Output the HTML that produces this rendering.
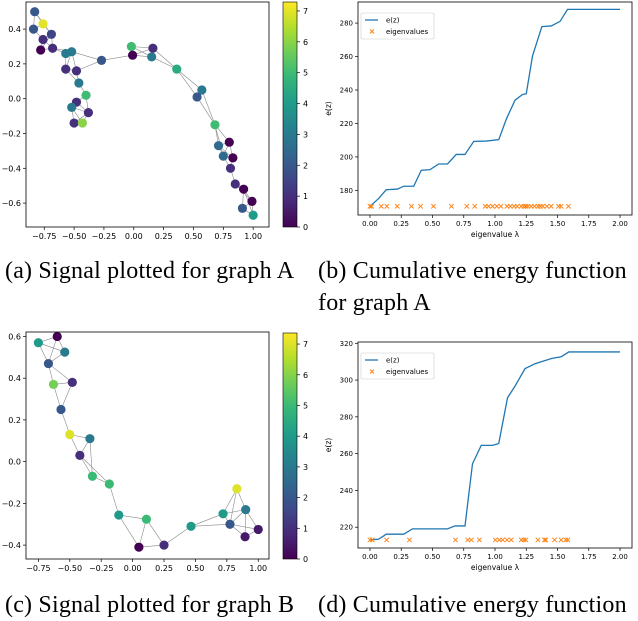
<!DOCTYPE html>
<html><head><meta charset="utf-8">
<style>
body{margin:0;background:#fff;width:638px;height:608px;overflow:hidden;font-family:"DejaVu Sans",sans-serif;}
svg{position:absolute;left:0;top:0}
.cap{position:absolute;font-family:"Liberation Serif",serif;font-size:24px;letter-spacing:0.2px;color:#000;white-space:nowrap;line-height:32px}
</style></head>
<body>
<svg id="fig" width="638" height="608"></svg>
<div class="cap" style="left:5px;top:255px">(a) Signal plotted for graph A</div>
<div class="cap" style="left:318px;top:255px">(b) Cumulative energy function<br>for graph A</div>
<div class="cap" style="left:5px;top:589px">(c) Signal plotted for graph B</div>
<div class="cap" style="left:318px;top:589px">(d) Cumulative energy function</div>
<script>
// Graph A nodes
const nodesAx=[-0.83,-0.76,-0.84,-0.69,-0.76,-0.78,-0.68,-0.57,-0.52,-0.57,-0.48,-0.46,-0.40,-0.48,-0.52,-0.38,-0.50,-0.43,-0.27,-0.02,-0.01,0.16,0.15,0.36,0.57,0.53,0.68,0.80,0.71,0.75,0.83,0.81,0.85,0.92,0.99,0.91,1.00];
const nodesAy=[0.50,0.43,0.40,0.37,0.34,0.28,0.29,0.26,0.27,0.17,0.16,0.09,0.02,-0.02,-0.05,-0.08,-0.14,-0.14,0.22,0.30,0.25,0.29,0.24,0.17,0.05,0.01,-0.15,-0.25,-0.27,-0.33,-0.34,-0.40,-0.49,-0.52,-0.59,-0.63,-0.67];
const nodesAv=[2,7,2,1.5,1,0,1,3,3,1,1,3,5,1,3,1,1,6,2,5,0,1,3,4.5,3,2,5,0,2.5,2.5,0,1,1,0,0,2,4];
// Graph B nodes
const nodesBx=[-0.75,-0.60,-0.54,-0.67,-0.63,-0.48,-0.57,-0.50,-0.34,-0.42,-0.32,-0.185,-0.11,0.11,0.05,0.25,0.465,0.72,0.83,0.90,0.775,0.895,1.0];
const nodesBy=[0.57,0.60,0.525,0.47,0.37,0.38,0.25,0.13,0.11,0.03,-0.07,-0.107,-0.256,-0.276,-0.41,-0.40,-0.31,-0.25,-0.13,-0.23,-0.30,-0.36,-0.325];
const nodesBv=[4,0,3,2,5.8,1,2,7,3,1,5,5,4,5,0,1,4,4,7,3,2,0.5,0.5];
// Energy curves
const curveAlam=[0,0.07,0.13,0.22,0.27,0.35,0.41,0.48,0.55,0.62,0.69,0.76,0.83,0.93,1.03,1.09,1.16,1.22,1.25,1.30,1.375,1.45,1.52,1.58,2.0];
const curveAe=[170.5,175.2,180.4,180.8,182.5,182.5,192,192.4,195.8,195.8,201.5,201.5,209.3,209.5,210.3,222.5,233.9,237.3,237.7,260.4,277.9,278.3,281,288.2,288.2];
const eigA=[0,0.013,0.09,0.135,0.218,0.332,0.404,0.508,0.652,0.774,0.838,0.923,0.949,0.98,1.015,1.047,1.096,1.122,1.152,1.178,1.21,1.231,1.247,1.263,1.29,1.316,1.343,1.362,1.383,1.415,1.449,1.508,1.529,1.588];
const eigAe=170.5;
const curveBlam=[0,0.07,0.13,0.27,0.34,0.62,0.68,0.76,0.82,0.89,0.98,1.03,1.10,1.16,1.24,1.32,1.455,1.53,1.59,2.0];
const curveBe=[213.1,213.5,216.2,216.2,219.1,219.1,220.7,220.7,254.5,264.5,264.5,265.5,290.4,296.7,306.2,308.9,311.8,312.7,315.3,315.3];
const eigB=[0,0.019,0.133,0.316,0.684,0.782,0.811,0.875,1.003,1.035,1.061,1.096,1.13,1.21,1.231,1.247,1.343,1.396,1.407,1.476,1.529,1.566,1.582];
const eigBe=213.1;
const xTicksScatter=[-0.75,-0.5,-0.25,0,0.25,0.5,0.75,1.0];
const yTicksA=[0.4,0.2,0,-0.2,-0.4,-0.6];
const yTicksB=[0.6,0.4,0.2,0,-0.2,-0.4];
const xTicksEnergy=[0,0.25,0.5,0.75,1.0,1.25,1.5,1.75,2.0];
const yTicksEA=[180,200,220,240,260,280];
const yTicksEB=[220,240,260,280,300,320];
const cbTicks=[0,1,2,3,4,5,6,7];

const NS="http://www.w3.org/2000/svg";
const svg=document.getElementById('fig');
function mk(tag,attrs,parent){const e=document.createElementNS(NS,tag);for(const k in attrs)e.setAttribute(k,attrs[k]);(parent||svg).appendChild(e);return e;}
const VIR=[[68,1,84],[72,40,120],[62,74,137],[49,104,142],[38,130,142],[31,158,137],[53,183,121],[109,205,89],[180,222,44],[253,231,37]];
function viridis(t){t=Math.max(0,Math.min(1,t));const p=t*(VIR.length-1),i=Math.min(VIR.length-2,Math.floor(p)),f=p-i;const c=VIR[i].map((v,k)=>Math.round(v+(VIR[i+1][k]-v)*f));return `rgb(${c[0]},${c[1]},${c[2]})`;}
function fmt(v,d){return (v<0?"\u2212":"")+Math.abs(v).toFixed(d);}

const defs=mk('defs',{});
const lg=mk('linearGradient',{id:'vir',x1:0,y1:1,x2:0,y2:0},defs);
VIR.forEach((c,i)=>mk('stop',{offset:i/(VIR.length-1),'stop-color':`rgb(${c})`},lg));

function scatter(name,box,xr,yr,xs,ys,vs,yt,vmax,cb){
  const g=mk('g',{});
  
  
  const sx=v=>box.x0+(v-xr[0])/(xr[1]-xr[0])*(box.x1-box.x0);
  const sy=v=>box.y0+(yr[1]-v)/(yr[1]-yr[0])*(box.y1-box.y0);
  const n=xs.length,seen={};
  for(let i=0;i<n;i++){
    const d=[];for(let j=0;j<n;j++)if(j!==i)d.push([Math.hypot(sx(xs[i])-sx(xs[j]),sy(ys[i])-sy(ys[j])),j]);
    d.sort((a,b)=>a[0]-b[0]);
    for(let k=0;k<3;k++){const j=d[k][1],key=Math.min(i,j)+'-'+Math.max(i,j);if(seen[key])continue;seen[key]=1;
      const l=mk('line',{x1:sx(xs[i]),y1:sy(ys[i]),x2:sx(xs[j]),y2:sy(ys[j]),stroke:'#8a8a8a','stroke-width':0.6},g);
      
      }
  }
  for(let i=0;i<n;i++){
    const c=mk('circle',{cx:sx(xs[i]),cy:sy(ys[i]),r:4.6,fill:viridis(vs[i]/vmax)},g);
    
    
  }
  const fr=mk('rect',{x:box.x0,y:box.y0,width:box.x1-box.x0,height:box.y1-box.y0,fill:'none',stroke:'#000','stroke-width':0.8},g);
  
  
  xTicksScatter.forEach(v=>{const x=sx(v);mk('line',{x1:x,x2:x,y1:box.y1,y2:box.y1+3,stroke:'#000','stroke-width':0.7},g);
    const t=mk('text',{x:x,y:box.y1+12,'font-size':8,'text-anchor':'middle',fill:'#000'},g);t.textContent=fmt(v,2);
    
    });
  yt.forEach(v=>{const y=sy(v);mk('line',{x1:box.x0-3,x2:box.x0,y1:y,y2:y,stroke:'#000','stroke-width':0.7},g);
    const t=mk('text',{x:box.x0-5,y:y+3,'font-size':8,'text-anchor':'end',fill:'#000'},g);t.textContent=fmt(v,1);
    
    });
  const cbr=mk('rect',{x:cb.x,y:cb.y0,width:14,height:cb.y1-cb.y0,fill:'url(#vir)',stroke:'#000','stroke-width':0.6},g);
  
  
  cbTicks.forEach(v=>{const y=cb.y1-v/vmax*(cb.y1-cb.y0);mk('line',{x1:cb.x+14,x2:cb.x+17,y1:y,y2:y,stroke:'#000','stroke-width':0.7},g);
    const t=mk('text',{x:cb.x+20,y:y+3,'font-size':8,fill:'#000'},g);t.textContent=v;
    
    });
}
scatter('scatter-graph-a',{x0:26,x1:269,y0:2,y1:227},[-0.9028,1.1326],[-0.7374,0.5557],nodesAx,nodesAy,nodesAv,yTicksA,7.29,{x:283,y0:2,y1:227});
scatter('scatter-graph-b',{x0:26,x1:269,y0:332,y1:559},[-0.8485,1.0856],[-0.4667,0.6213],nodesBx,nodesBy,nodesBv,yTicksB,7.36,{x:283,y0:333,y1:559});

function energy(name,box,xr,yr,lam,e,eig,eigE,yt){
  const g=mk('g',{});
  
  
  const sx=v=>box.x0+(v-xr[0])/(xr[1]-xr[0])*(box.x1-box.x0);
  const sy=v=>box.y0+(yr[1]-v)/(yr[1]-yr[0])*(box.y1-box.y0);
  const p=mk('polyline',{points:lam.map((l,i)=>sx(l)+','+sy(e[i])).join(' '),fill:'none',stroke:'#1f77b4','stroke-width':1.3},g);
  
  
  eig.forEach(l=>{const x=sx(l),y=sy(eigE),s=2.2;
    const m=mk('path',{d:`M${x-s},${y-s}L${x+s},${y+s}M${x-s},${y+s}L${x+s},${y-s}`,stroke:'#ff7f0e','stroke-width':0.9},g);
    
    });
  const fr=mk('rect',{x:box.x0,y:box.y0,width:box.x1-box.x0,height:box.y1-box.y0,fill:'none',stroke:'#000','stroke-width':0.8},g);
  
  
  xTicksEnergy.forEach(v=>{const x=sx(v);mk('line',{x1:x,x2:x,y1:box.y1,y2:box.y1+3,stroke:'#000','stroke-width':0.7},g);
    const t=mk('text',{x:x,y:box.y1+11,'font-size':7,'text-anchor':'middle',fill:'#000'},g);t.textContent=v.toFixed(2);
    
    });
  yt.forEach(v=>{const y=sy(v);mk('line',{x1:box.x0-3,x2:box.x0,y1:y,y2:y,stroke:'#000','stroke-width':0.7},g);
    const t=mk('text',{x:box.x0-5,y:y+2.5,'font-size':7,'text-anchor':'end',fill:'#000'},g);t.textContent=v;
    
    });
  const xl=mk('text',{x:(box.x0+box.x1)/2,y:box.y1+22,'font-size':7.5,'text-anchor':'middle',fill:'#000'},g);xl.textContent='eigenvalue \u03bb';
  
  
  const yc=(box.y0+box.y1)/2;
  const yl=mk('text',{x:331,y:yc,'font-size':7.5,'text-anchor':'middle',fill:'#000',transform:`rotate(-90 331 ${yc})`},g);yl.textContent='e(z)';
  
  
  const lg=mk('g',{},g);
  
  
  const lx=box.x0+3,ly=box.y0+11;
  mk('rect',{x:lx,y:ly-0,width:73,height:26,fill:'#fff',stroke:'#ccc','stroke-width':0.6,rx:1.5},lg);
  mk('line',{x1:lx+4,x2:lx+17,y1:ly+7,y2:ly+7,stroke:'#1f77b4','stroke-width':1.3},lg);
  const t1=mk('text',{x:lx+25,y:ly+9.5,'font-size':7,fill:'#000'},lg);t1.textContent='e(z)';
  
  
  const mx=lx+11,my=ly+18.5;
  mk('path',{d:`M${mx-2},${my-2}L${mx+2},${my+2}M${mx-2},${my+2}L${mx+2},${my-2}`,stroke:'#ff7f0e','stroke-width':0.9},lg);
  const t2=mk('text',{x:lx+25,y:ly+21,'font-size':7,fill:'#000'},lg);t2.textContent='eigenvalues';
  
  
}
energy('energy-chart-a',{x0:358,x1:632,y0:2,y1:215},[-0.0957,2.0957],[165.3,292.6],curveAlam,curveAe,eigA,eigAe,yTicksEA);
energy('energy-chart-b',{x0:358,x1:632,y0:342,y1:548},[-0.0957,2.0957],[208.7,320.7],curveBlam,curveBe,eigB,eigBe,yTicksEB);
</script>
</body></html>
